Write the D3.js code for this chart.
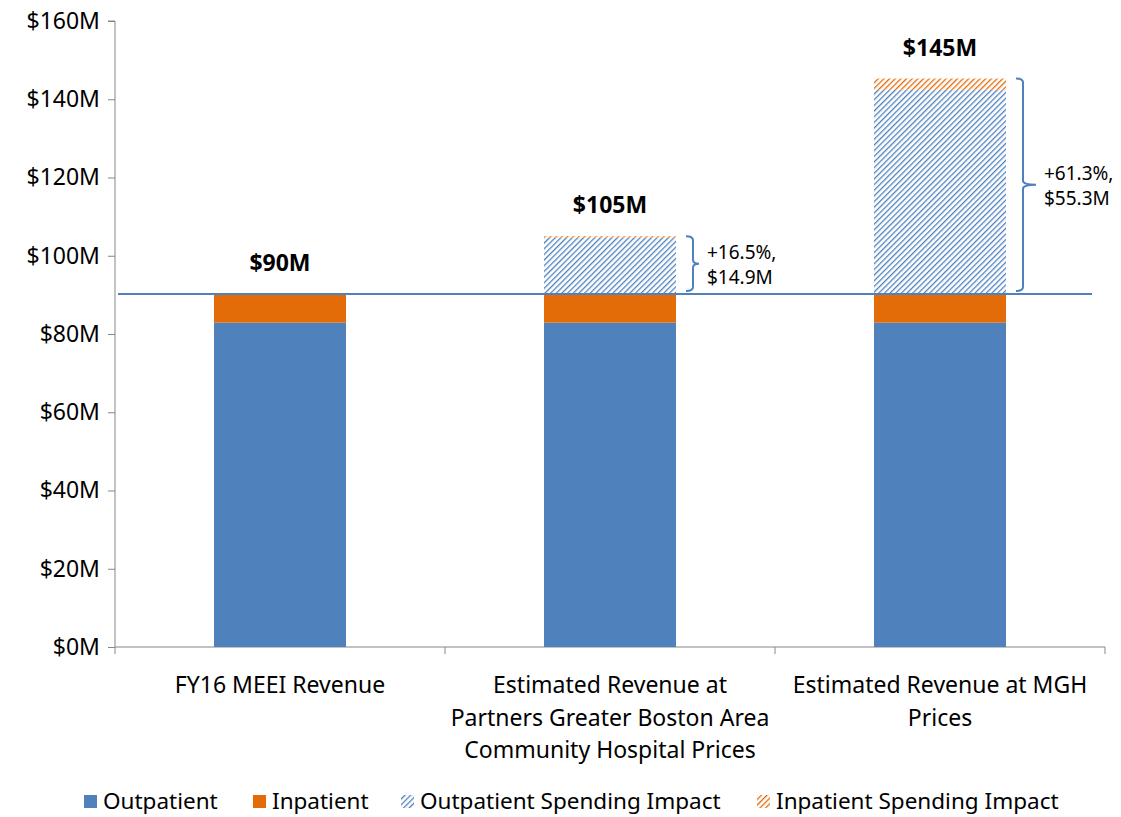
<!DOCTYPE html>
<html>
<head>
<meta charset="utf-8">
<title>MEEI revenue</title>
<script src="https://d3js.org/d3.v7.min.js"></script>
<style>
  body { margin: 0; background: #fff; }
  text { font-family: "Noto Sans", "Open Sans", sans-serif; fill: #000; }
</style>
</head>
<body>
<div id="chart"></div>
<script>
// data ($M)
const categories = ["FY16 MEEI Revenue",
  "Estimated Revenue at Partners Greater Boston Area Community Hospital Prices",
  "Estimated Revenue at MGH Prices"];
const categoryLines = [
  ["FY16 MEEI Revenue"],
  ["Estimated Revenue at", "Partners Greater Boston Area", "Community Hospital Prices"],
  ["Estimated Revenue at MGH", "Prices"]
];
const outpatient = [82.9, 82.9, 82.9];
const inpatient = [7.3, 7.3, 7.3];
const outImpact = [0, 14.4, 52.2];
const inImpact = [0, 0.4, 2.9];
const totalLabels = ["$90M", "$105M", "$145M"];
const impactLabels = [null, ["+16.5%,", "$14.9M"], ["+61.3%,", "$55.3M"]];
const yTicks = [0, 20, 40, 60, 80, 100, 120, 140, 160];
const seriesNames = ["Outpatient", "Inpatient", "Outpatient Spending Impact", "Inpatient Spending Impact"];

const blue = "#4f81bd", orange = "#e36c09", axisCol = "#868686";

const W = 1121, H = 817;
const x0 = 115, x1 = 1105, yTop = 21, yBot = 647;

const svg = d3.select("#chart").append("svg")
  .attr("width", W).attr("height", H);

// hatch patterns
const defs = svg.append("defs");
function hatch(id, col) {
  const p = defs.append("pattern")
    .attr("id", id).attr("patternUnits", "userSpaceOnUse")
    .attr("width", 4).attr("height", 4)
    .attr("patternTransform", "rotate(45)");
  p.append("rect").attr("width", 4).attr("height", 4).attr("fill", "#fff");
  p.append("line").attr("x1", 0).attr("y1", 0).attr("x2", 0).attr("y2", 4)
    .attr("stroke", col).attr("stroke-width", 2.6);
}
hatch("hBlue", blue);
hatch("hOrange", orange);
const fills = [blue, orange, "url(#hBlue)", "url(#hOrange)"];

const x = d3.scaleBand().domain(categories).range([x0, x1])
  .paddingInner(0.6).paddingOuter(0.3);
const y = d3.scaleLinear().domain([0, 160]).range([yBot, yTop]);

// axes
const yAxis = svg.append("g").attr("transform", `translate(${x0},0)`)
  .call(d3.axisLeft(y).tickValues(yTicks).tickSize(7).tickPadding(8)
    .tickFormat(d => "$" + d + "M"));
yAxis.select(".domain").attr("stroke", axisCol).attr("d", `M-7,${yTop}H0V${yBot}`);
yAxis.selectAll(".tick line").attr("stroke", axisCol);
yAxis.selectAll(".tick text").attr("font-size", 23).attr("fill", "#000")
  .attr("font-family", "Noto Sans");

// x axis line with ticks at the band edges
const step = x.step();
const edges = [x0].concat(categories.map(c => x(c) + x.bandwidth() + step * 0.3));
const xg = svg.append("g");
xg.append("line").attr("x1", x0).attr("x2", x1).attr("y1", yBot).attr("y2", yBot)
  .attr("stroke", axisCol);
xg.selectAll(".xt").data(edges).enter().append("line")
  .attr("x1", d => d).attr("x2", d => d).attr("y1", yBot).attr("y2", yBot + 7)
  .attr("stroke", axisCol);

// stacked bars
const stackData = categories.map((c, i) => ({
  cat: c, v: [outpatient[i], inpatient[i], outImpact[i], inImpact[i]]
}));
stackData.forEach(d => {
  let acc = 0;
  d.segs = d.v.map((v, k) => { const s = { y0: acc, y1: acc + v, k }; acc += v; return s; });
  d.total = acc;
});
const barG = svg.append("g");
stackData.forEach(d => {
  barG.selectAll(null).data(d.segs.filter(s => s.y1 > s.y0)).enter().append("rect")
    .attr("x", x(d.cat)).attr("width", x.bandwidth())
    .attr("y", s => y(s.y1)).attr("height", s => y(s.y0) - y(s.y1))
    .attr("fill", s => fills[s.k]);
});

// baseline line at FY16 revenue
const base = outpatient[0] + inpatient[0];
svg.append("line").attr("x1", x0 + 3).attr("x2", 1092)
  .attr("y1", y(base)).attr("y2", y(base))
  .attr("stroke", blue).attr("stroke-width", 2);

// total labels
svg.selectAll(".tot").data(stackData).enter().append("text")
  .attr("x", d => x(d.cat) + x.bandwidth() / 2)
  .attr("y", d => y(d.total) - 23)
  .attr("text-anchor", "middle").attr("font-size", 23).attr("font-weight", "bold")
  .text((d, i) => totalLabels[i]);

// braces + impact labels
stackData.forEach((d, i) => {
  if (!impactLabels[i]) return;
  const left = x(d.cat) + x.bandwidth() + 10;
  const mid = left + 7, tip = left + (i === 2 ? 20 : 13);
  const top = y(d.total), bot = y(base) - 3, c = (top + bot) / 2;
  const r = 4;
  const path = `M${left},${top} Q${mid},${top} ${mid},${top + r} V${c - r} Q${mid},${c} ${tip},${c}`
    + ` Q${mid},${c} ${mid},${c + r} V${bot - r} Q${mid},${bot} ${left},${bot}`;
  svg.append("path").attr("d", path).attr("fill", "none")
    .attr("stroke", blue).attr("stroke-width", 2);
  const t = svg.append("text").attr("font-size", 19);
  t.append("tspan").attr("x", tip + 8).attr("y", c - 5).text(impactLabels[i][0]);
  t.append("tspan").attr("x", tip + 8).attr("y", c + 20).text(impactLabels[i][1]);
});

// category labels
stackData.forEach((d, i) => {
  const t = svg.append("text").attr("text-anchor", "middle").attr("font-size", 23);
  categoryLines[i].forEach((ln, j) => {
    t.append("tspan").attr("x", x(d.cat) + x.bandwidth() / 2)
      .attr("y", 693 + j * 32.5).text(ln);
  });
});

// legend
const legX = [84, 253, 401, 757];
const leg = svg.append("g");
seriesNames.forEach((n, k) => {
  leg.append("rect").attr("x", legX[k]).attr("y", 795).attr("width", 13).attr("height", 13)
    .attr("fill", fills[k]);
  leg.append("text").attr("x", legX[k] + 19).attr("y", 809).attr("font-size", 22.5).text(n);
});
</script>
</body>
</html>
